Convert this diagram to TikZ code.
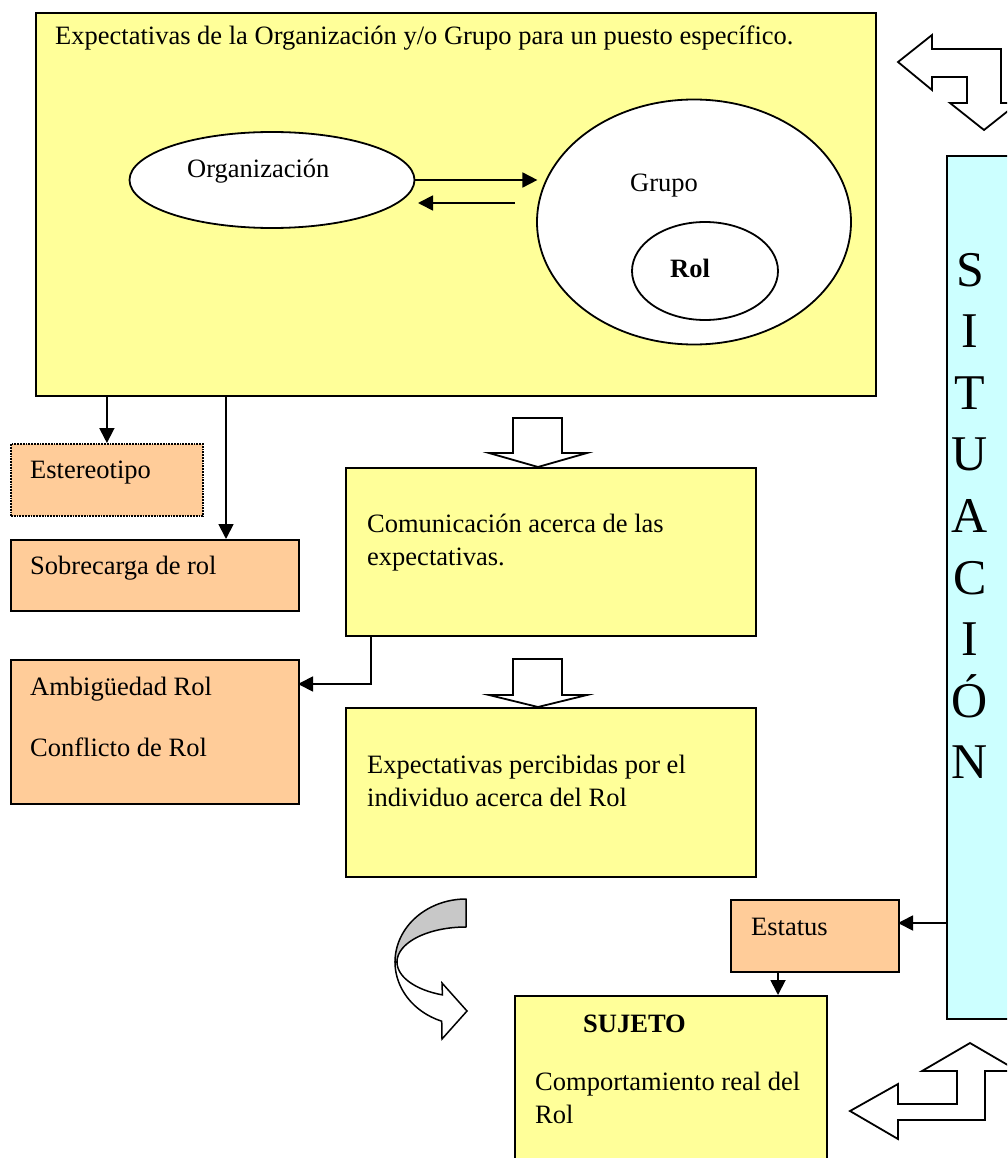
\documentclass[tikz,border=0pt]{standalone}
\usepackage{fontspec}
\setmainfont{Liberation Serif}
\usetikzlibrary{arrows.meta,shapes.geometric}
\definecolor{paleyellow}{HTML}{FFFF99}
\definecolor{paleorange}{HTML}{FFCC99}
\definecolor{palecyan}{HTML}{CCFFFF}
\definecolor{bandgray}{HTML}{C8C8C8}
\begin{document}
\begin{tikzpicture}[x=1pt,y=-1pt,
  box/.style={draw, line width=1.8pt, inner sep=0pt, anchor=north west},
  ybox/.style={box, fill=paleyellow},
  obox/.style={box, fill=paleorange},
  oval/.style={ellipse, draw, fill=white, line width=1.8pt, inner sep=0pt},
  txt/.style={anchor=base west, inner sep=0pt, font=\fontsize{26.5}{31}\selectfont},
  btxt/.style={txt, font=\fontsize{26.5}{31}\selectfont\bfseries},
  big/.style={anchor=base, inner sep=0pt, font=\fontsize{50}{60}\selectfont},
  arr/.style={line width=1.8pt, -{Triangle[length=15pt,width=15pt]}},
  hollow/.style={draw, line width=1.8pt, fill=white, line join=miter}
]
\useasboundingbox (0,0) rectangle (1007,1158);
\clip (0,0) rectangle (1007,1158);

% boxes
\node[ybox, minimum width=840pt, minimum height=383pt] (main) at (35,12) {};
\node[obox, densely dotted, minimum width=192pt, minimum height=72pt] (est) at (10,443) {};
\node[obox, minimum width=288pt, minimum height=71pt] (sob) at (10,539) {};
\node[ybox, minimum width=410pt, minimum height=168pt] (com) at (345,467) {};
\node[obox, minimum width=288pt, minimum height=144pt] (amb) at (10,659) {};
\node[ybox, minimum width=410pt, minimum height=169pt] (perc) at (345,707) {};
\node[obox, minimum width=168pt, minimum height=72pt] (estat) at (730,899) {};
\node[ybox, minimum width=312pt, minimum height=200pt] (suj) at (514,995) {};
\node[box, fill=palecyan, minimum width=90pt, minimum height=863pt] (sit) at (946,155) {};

% ellipses inside the top box
\node[oval, minimum width=285pt, minimum height=96pt] (org) at (272,180) {};
\node[oval, minimum width=314pt, minimum height=245pt] (grupo) at (694,222) {};
\node[oval, minimum width=146pt, minimum height=98pt] (rol) at (705,271) {};

% texts
\node[txt] (t0) at (55,45) {Expectativas de la Organización y/o Grupo para un puesto específico.};
\node[txt] (t1) at (187,178) {Organización};
\node[txt] (t2) at (630,192) {Grupo};
\node[btxt] (t3) at (670,277) {Rol};
\node[txt] (t4) at (30,478) {Estereotipo};
\node[txt] (t5) at (30,574) {Sobrecarga de rol};
\node[txt] (t6) at (367,532) {Comunicación acerca de las};
\node[txt] (t7) at (367,565) {expectativas.};
\node[txt] (t8) at (30,695) {Ambigüedad Rol};
\node[txt] (t9) at (30,756) {Conflicto de Rol};
\node[txt] (t10) at (367,773) {Expectativas percibidas por el};
\node[txt] (t11) at (367,806) {individuo acerca del Rol};
\node[txt] (t12) at (751,935) {Estatus};
\node[btxt] (t13) at (583,1032) {SUJETO};
\node[txt] (t14) at (535,1090) {Comportamiento real del};
\node[txt] (t15) at (535,1123) {Rol};
\foreach \l [count=\i] in {S,I,T,U,A,C,I,Ó,N}
  \node[big] (sit\i) at (970,{286+61.6*(\i-1)}) {\l};

% connectors
\coordinate (xs) at (226,0);
\draw[arr] (main.south -| est.north) -- (est.north);
\draw[arr] (main.south -| xs) -- (xs |- sob.north);

\coordinate (g1) at (515,203);
\coordinate (o1) at (418,203);
\draw[arr] (org.east) -- ++(122,0);
\draw[arr] (g1) -- (o1);

\coordinate (c1) at (371,635);
\coordinate (c2) at (298,684);
\draw[arr] (c1) |- (c2);

\coordinate (s1) at (946,923);
\coordinate (s2) at (898,923);
\draw[arr] (s1) -- (s2);

\coordinate (e1) at (778,971);
\draw[arr] (e1) -- (e1 |- suj.north);

% hollow block arrows between the central boxes
\draw[hollow] (513,418) -- (562,418) -- (562,453) -- (587,453) -- (538,467)
  -- (489,453) -- (513,453) -- cycle;
\draw[hollow] (513,659) -- (562,659) -- (562,695) -- (587,695) -- (538,707)
  -- (489,695) -- (513,695) -- cycle;

% bent two-way arrows at the right edge
\draw[hollow] (898,62) -- (932,35) -- (932,49) -- (1001,49) -- (1001,103)
  -- (1018,103) -- (984,130) -- (950,103) -- (967,103) -- (967,77)
  -- (932,77) -- (932,90) -- cycle;
\draw[hollow] (970,1043) -- (1018,1071) -- (985,1071) -- (985,1120)
  -- (898,1120) -- (898,1139) -- (850,1111) -- (898,1084) -- (898,1104)
  -- (957,1104) -- (957,1071) -- (922,1071) -- cycle;

% curved arrow: shaded back band and white front band
\draw[line width=1.5pt, fill=bandgray, line join=round]
  plot[domain=270:180, samples=40] ({466+71*cos(\x)}, {962+63*sin(\x)})
  -- plot[domain=180:270, samples=40] ({466+69*cos(\x)}, {962+35*sin(\x)})
  -- cycle;
\draw[line width=1.5pt, fill=white, line join=miter]
  plot[domain=180:110, samples=30] ({466+71*cos(\x)}, {962+63*sin(\x)})
  -- (442,1039) -- (467,1011) -- (442,983)
  -- plot[domain=110:180, samples=30] ({466+69*cos(\x)}, {962+35*sin(\x)})
  -- cycle;
\end{tikzpicture}
\end{document}
